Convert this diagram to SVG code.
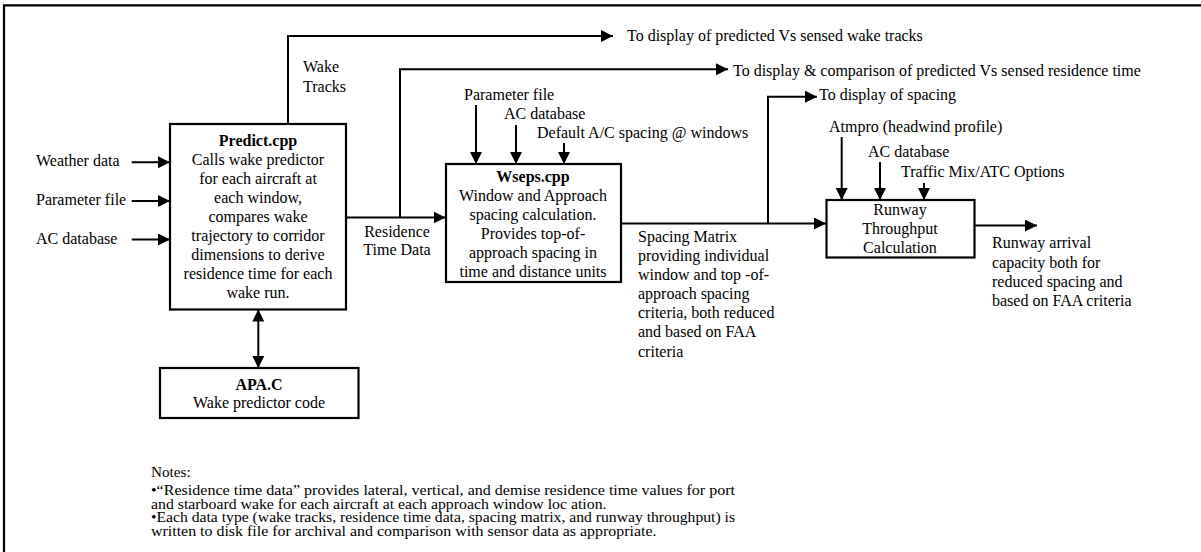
<svg xmlns="http://www.w3.org/2000/svg" width="1201" height="552" viewBox="0 0 1201 552">
  <style>
    .t { font-family: "Liberation Serif", "Times New Roman", serif; font-size: 16px; fill: #000; }
    .b { font-weight: bold; }
    .m { text-anchor: middle; }
    .n { font-size: 14px; }
    .box { fill: #fff; stroke: #000; stroke-width: 2.2; }
    .c { fill: none; stroke: #000; stroke-width: 2; }
  </style>
  <defs>
    <marker id="arrow" markerUnits="userSpaceOnUse" markerWidth="12" markerHeight="12" refX="12" refY="6" orient="auto-start-reverse">
      <path d="M0,0 L12,6 L0,12 z" fill="#000"/>
    </marker>
  </defs>

  <rect width="1201" height="552" fill="#fff"/>
  <!-- page frame (only top and left edges fall inside the view) -->
  <path d="M4,560 V5.3 H1210" fill="none" stroke="#000" stroke-width="2.2"/>

  <g id="connectors">
    <!-- wake tracks out -->
    <path class="c" d="M288,124 V36 H613" marker-end="url(#arrow)"/>
    <!-- residence time data -->
    <path class="c" d="M346,217.5 H445.5" marker-end="url(#arrow)"/>
    <path class="c" d="M400,217.5 V69.3 H728" marker-end="url(#arrow)"/>
    <!-- spacing matrix -->
    <path class="c" d="M621,223.5 H826" marker-end="url(#arrow)"/>
    <path class="c" d="M768,223.5 V96.7 H817" marker-end="url(#arrow)"/>
    <!-- runway capacity out -->
    <path class="c" d="M975,225.5 H1037" marker-end="url(#arrow)"/>
    <!-- Predict.cpp inputs -->
    <path class="c" d="M131.7,162.3 H170" marker-end="url(#arrow)"/>
    <path class="c" d="M131.7,201 H170" marker-end="url(#arrow)"/>
    <path class="c" d="M131.7,239.5 H170" marker-end="url(#arrow)"/>
    <!-- Wseps.cpp inputs -->
    <path class="c" d="M476,105 V164" marker-end="url(#arrow)"/>
    <path class="c" d="M516,125 V164" marker-end="url(#arrow)"/>
    <path class="c" d="M564,143 V164" marker-end="url(#arrow)"/>
    <!-- runway throughput inputs -->
    <path class="c" d="M841.7,137 V200" marker-end="url(#arrow)"/>
    <path class="c" d="M880,162 V200" marker-end="url(#arrow)"/>
    <path class="c" d="M924,183 V200" marker-end="url(#arrow)"/>
    <!-- Predict.cpp <-> APA.C -->
    <path class="c" d="M258.3,309.5 V368" marker-start="url(#arrow)" marker-end="url(#arrow)"/>
  </g>

  <g id="predict">
    <rect class="box" x="170" y="124" width="176" height="185.5"/>
    <text class="t b m" x="258" y="146">Predict.cpp</text>
    <text class="t m" x="258" y="165">Calls wake predictor</text>
    <text class="t m" x="258" y="184">for each aircraft at</text>
    <text class="t m" x="258" y="203">each window,</text>
    <text class="t m" x="258" y="222">compares wake</text>
    <text class="t m" x="258" y="241">trajectory to corridor</text>
    <text class="t m" x="258" y="260">dimensions to derive</text>
    <text class="t m" x="258" y="279">residence time for each</text>
    <text class="t m" x="258" y="298">wake run.</text>
  </g>

  <g id="wseps">
    <rect class="box" x="446" y="164" width="175" height="118"/>
    <text class="t b m" x="533" y="181.5">Wseps.cpp</text>
    <text class="t m" x="533" y="200.5">Window and Approach</text>
    <text class="t m" x="533" y="219.5">spacing calculation.</text>
    <text class="t m" x="533" y="238.5">Provides top-of-</text>
    <text class="t m" x="533" y="257.5">approach spacing in</text>
    <text class="t m" x="533" y="276.5">time and distance units</text>
  </g>

  <g id="runway">
    <rect class="box" x="826.5" y="200" width="148" height="57.5"/>
    <text class="t m" x="900" y="215">Runway</text>
    <text class="t m" x="900" y="234">Throughput</text>
    <text class="t m" x="900" y="253">Calculation</text>
  </g>

  <g id="apa">
    <rect class="box" x="160" y="368" width="198.5" height="50"/>
    <text class="t b m" x="259" y="390">APA.C</text>
    <text class="t m" x="259" y="408">Wake predictor code</text>
  </g>

  <g id="labels">
    <text class="t" x="36" y="166">Weather data</text>
    <text class="t" x="36" y="205">Parameter file</text>
    <text class="t" x="36" y="244">AC database</text>

    <text class="t" x="303" y="71.7">Wake</text>
    <text class="t" x="303" y="91.7">Tracks</text>

    <text class="t m" x="397" y="237">Residence</text>
    <text class="t m" x="397" y="255">Time Data</text>

    <text class="t" x="627" y="41">To display of predicted Vs sensed wake tracks</text>
    <text class="t" x="733" y="76">To display &amp; comparison of predicted Vs sensed residence time</text>
    <text class="t" x="819" y="100">To display of spacing</text>

    <text class="t" x="464" y="99.5">Parameter file</text>
    <text class="t" x="504" y="119">AC database</text>
    <text class="t" x="537" y="137.5">Default A/C spacing @ windows</text>

    <text class="t" x="829" y="132">Atmpro (headwind profile)</text>
    <text class="t" x="868" y="157">AC database</text>
    <text class="t" x="901" y="177">Traffic Mix/ATC Options</text>

    <text class="t" x="638" y="241.7">Spacing Matrix</text>
    <text class="t" x="638" y="261">providing individual</text>
    <text class="t" x="638" y="280">window and top -of-</text>
    <text class="t" x="638" y="299">approach spacing</text>
    <text class="t" x="638" y="318">criteria, both reduced</text>
    <text class="t" x="638" y="337">and based on FAA</text>
    <text class="t" x="638" y="356.5">criteria</text>

    <text class="t" x="992" y="248">Runway arrival</text>
    <text class="t" x="992" y="267.5">capacity both for</text>
    <text class="t" x="992" y="287">reduced spacing and</text>
    <text class="t" x="992" y="306">based on FAA criteria</text>
  </g>

  <g id="notes">
    <text class="t n" x="151" y="476.5" textLength="39.7" lengthAdjust="spacingAndGlyphs">Notes:</text>
    <text class="t n" x="151" y="495" textLength="584" lengthAdjust="spacingAndGlyphs">•“Residence time data” provides lateral, vertical, and demise residence time values for port</text>
    <text class="t n" x="151" y="508.5" textLength="455.5" lengthAdjust="spacingAndGlyphs">and starboard wake for each aircraft at each approach window loc ation.</text>
    <text class="t n" x="151" y="522" textLength="584" lengthAdjust="spacingAndGlyphs">•Each data type (wake tracks, residence time data, spacing matrix, and runway throughput) is</text>
    <text class="t n" x="151" y="535.5" textLength="505.5" lengthAdjust="spacingAndGlyphs">written to disk file for archival and comparison with sensor data as appropriate.</text>
  </g>
</svg>
